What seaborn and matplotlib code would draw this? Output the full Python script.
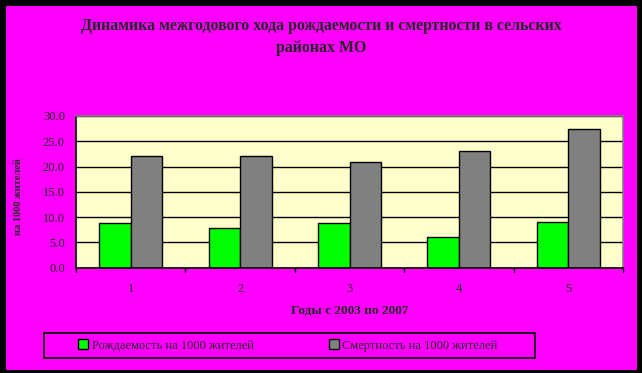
import pandas as pd
import matplotlib
matplotlib.use("Agg")
import matplotlib.pyplot as plt
from matplotlib.patches import Rectangle
import seaborn as sns

# data
years = ["1", "2", "3", "4", "5"]
births = [8.9, 7.9, 8.9, 6.0, 9.1]
deaths = [22.0, 22.0, 20.8, 23.0, 27.4]
series_names = ["Рождаемость на 1000 жителей", "Смертность на 1000 жителей"]
y_ticks = [0, 5, 10, 15, 20, 25, 30]

df = pd.DataFrame({
    "year": years * 2,
    "value": births + deaths,
    "series": [series_names[0]] * len(years) + [series_names[1]] * len(years),
})

sns.set_style("white")
plt.rcParams["font.family"] = ["Liberation Serif", "DejaVu Serif"]

fig = plt.figure(figsize=(6.42, 3.73), dpi=100, facecolor="black")
# magenta chart area inside the black border
fig.patches.append(Rectangle((6 / 642, 3 / 373), 631 / 642, 364 / 373,
                             transform=fig.transFigure, facecolor="#FF00FF",
                             edgecolor="none", zorder=-10))
# legend box
fig.patches.append(Rectangle((44 / 642, 15.5 / 373), 491 / 642, 24.5 / 373,
                             transform=fig.transFigure, facecolor="none",
                             edgecolor="black", linewidth=1.2, zorder=-5))

ax = fig.add_axes([76 / 642, 105.5 / 373, 547 / 642, 151.5 / 373])
ax.set_facecolor("#FFFFCC")

sns.barplot(data=df, x="year", y="value", hue="series", ax=ax,
            palette=["#00FF00", "#808080"], width=0.575,
            edgecolor="black", linewidth=1, saturation=1, legend=True)

# category boundary ticks on the x axis like the original
for k in range(len(years) + 1):
    ax.plot([k - 0.5, k - 0.5], [0, -0.03], transform=ax.get_xaxis_transform(),
            color="black", linewidth=1, clip_on=False)

ax.set_xlim(-0.5, len(years) - 0.5)
ax.set_ylim(0, 30)
ax.set_yticks(y_ticks)
ax.set_yticklabels([f"{v:.1f}" for v in y_ticks], fontsize=9)
ax.tick_params(axis="x", labelsize=9, length=0, pad=11)
ax.tick_params(axis="y", length=3, width=1, color="black", direction="out", pad=5)
ax.yaxis.grid(True, color="black", linewidth=1)
ax.set_axisbelow(True)

for side in ["top", "right"]:
    ax.spines[side].set_color("#808080")
    ax.spines[side].set_linewidth(1.2)
for side in ["left", "bottom"]:
    ax.spines[side].set_color("black")
    ax.spines[side].set_linewidth(1.2)

ax.set_xlabel("Годы с 2003 по 2007", fontsize=9.5, fontweight="bold", labelpad=7)
ax.set_ylabel("на 1000 жителей", fontsize=7.5, fontweight="bold")
ax.yaxis.set_label_coords((23 - 76) / 547, 0.47)

fig.text(0.5, 1 - 37 / 373, "Динамика межгодового хода рождаемости и смертности в сельских\nрайонах МО",
         ha="center", va="center", fontsize=11.4, fontweight="bold", linespacing=1.5)

handles, labels = ax.get_legend_handles_labels()
ax.get_legend().remove()
leg = fig.legend(handles, labels, loc="center left", ncol=2,
                 bbox_to_anchor=(78 / 642, 27.5 / 373),
                 fontsize=9, frameon=False, handlelength=0.8, handleheight=0.8,
                 handletextpad=0.3, borderpad=0, borderaxespad=0, columnspacing=6.0)

fig.savefig("out.png", dpi=100, facecolor=fig.get_facecolor())
